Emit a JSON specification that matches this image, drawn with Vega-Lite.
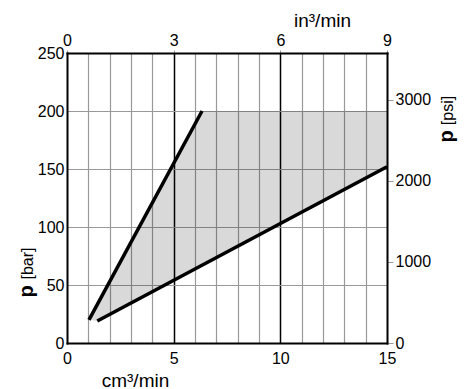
{
  "$schema": "https://vega.github.io/schema/vega-lite/v6.json",
  "autosize": {"type": "none"},
  "padding": {"left": 67, "top": 53, "right": 82, "bottom": 46},
  "width": 320,
  "height": 290,
  "background": "white",
  "config": {
    "view": {"stroke": null},
    "font": "Liberation Sans",
    "axis": {
      "labelFont": "Liberation Sans",
      "labelFontSize": 16,
      "labelColor": "black",
      "titleFont": "Liberation Sans",
      "titleColor": "black",
      "titleFontWeight": "normal",
      "labelFlush": false,
      "labelOverlap": false,
      "domainColor": "black",
      "domainWidth": 2,
      "domainCap": "square"
    }
  },
  "datasets": {
    "lines": [
      {"series": "steep", "cm": 1.03, "bar": 20},
      {"series": "steep", "cm": 6.33, "bar": 200},
      {"series": "shallow", "cm": 1.42, "bar": 19},
      {"series": "shallow", "cm": 15, "bar": 152}
    ],
    "band": [
      {"cm": 1.03, "bar": 20, "bar2": 20},
      {"cm": 1.42, "bar": 19, "bar2": 33.2},
      {"cm": 6.33, "bar": 67.1, "bar2": 200},
      {"cm": 15, "bar": 152, "bar2": 200}
    ]
  },
  "layer": [
    {
      "encoding": {
        "x": {
          "field": "cm", "type": "quantitative",
          "scale": {"domain": [0, 15], "nice": false, "zero": false},
          "axis": {
            "orient": "bottom",
            "title": "cm³/min",
            "values": [0,1,2,3,4,5,6,7,8,9,10,11,12,13,14,15],
            "labelExpr": "datum.value % 5 === 0 ? datum.label : ''",
            "ticks": false,
            "tickSize": 0,
            "labelPadding": 7,
            "grid": true,
            "gridColor": {"condition": {"test": "datum.value === 5 || datum.value === 10", "value": "black"}, "value": "#999999"},
            "gridWidth": {"condition": {"test": "datum.value === 5 || datum.value === 10", "value": 1.5}, "value": 1.2},
            "gridOpacity": {"condition": {"test": "datum.value === 0 || datum.value === 15", "value": 0}, "value": 1},
            "titleFontSize": 19,
            "titleX": 68,
            "titleY": 43,
            "titleAlign": "center",
            "titleBaseline": "alphabetic"
          }
        },
        "y": {
          "field": "bar", "type": "quantitative",
          "scale": {"domain": [0, 250], "nice": false},
          "axis": {
            "orient": "left",
            "title": "[bar]",
            "values": [0, 50, 100, 150, 200, 250],
            "ticks": false,
            "tickSize": 0,
            "labelPadding": 3,
            "grid": true,
            "gridColor": "#999999",
            "gridWidth": 1.2,
            "gridOpacity": {"condition": {"test": "datum.value === 0 || datum.value === 250", "value": 0}, "value": 1},
            "titleFontSize": 16,
            "titleAngle": 270,
            "titleX": -35,
            "titleY": 210,
            "titleAlign": "center",
            "titleBaseline": "alphabetic"
          }
        }
      },
      "layer": [
        {
          "data": {"name": "band"},
          "mark": {"type": "area", "color": "black", "opacity": 0.15},
          "encoding": {
            "y2": {"field": "bar2"}
          }
        },
        {
          "data": {"name": "lines"},
          "mark": {"type": "line", "color": "black", "strokeWidth": 3.5, "strokeCap": "butt"},
          "encoding": {
            "detail": {"field": "series"}
          }
        }
      ]
    },
    {
      "data": {"values": [{}]},
      "mark": {"type": "point", "opacity": 0},
      "encoding": {
        "x": {
          "datum": 0, "type": "quantitative",
          "scale": {"domain": [0, 9], "nice": false},
          "axis": {
            "orient": "top",
            "title": "in³/min",
            "values": [0, 3, 6, 9],
            "ticks": true,
            "tickSize": 3,
            "tickColor": "#999999",
            "labelPadding": 2,
            "grid": false,
            "titleFontSize": 19,
            "titleX": 255,
            "titleY": -27,
            "titleAlign": "center",
            "titleBaseline": "alphabetic"
          }
        },
        "y": {
          "datum": 0, "type": "quantitative",
          "scale": {"domain": [0, 3575], "nice": false},
          "axis": {
            "orient": "right",
            "title": "[psi]",
            "values": [0, 1000, 2000, 3000],
            "format": "d",
            "ticks": true,
            "tickSize": 6,
            "tickColor": "#999999",
            "labelPadding": 2,
            "grid": false,
            "titleFontSize": 16,
            "titleAngle": 270,
            "titleX": 65,
            "titleY": 57,
            "titleAlign": "center",
            "titleBaseline": "alphabetic"
          }
        }
      }
    },
    {
      "data": {"values": [{}]},
      "mark": {"type": "point", "opacity": 0},
      "encoding": {
        "x": {"datum": 0, "type": "quantitative", "axis": null},
        "y": {
          "datum": 0, "type": "quantitative",
          "scale": {"domain": [0, 1]},
          "axis": {
            "orient": "left",
            "title": "p",
            "labels": false, "ticks": false, "domain": false, "grid": false,
            "titleFontSize": 20,
            "titleFontWeight": "bold",
            "titleAngle": 270,
            "titleX": -35,
            "titleY": 238,
            "titleAlign": "center",
            "titleBaseline": "alphabetic"
          }
        }
      }
    },
    {
      "data": {"values": [{}]},
      "mark": {"type": "point", "opacity": 0},
      "encoding": {
        "x": {"datum": 0, "type": "quantitative", "axis": null},
        "y": {
          "datum": 0, "type": "quantitative",
          "scale": {"domain": [0, 1]},
          "axis": {
            "orient": "right",
            "title": "p",
            "labels": false, "ticks": false, "domain": false, "grid": false,
            "titleFontSize": 20,
            "titleFontWeight": "bold",
            "titleAngle": 270,
            "titleX": 65,
            "titleY": 83,
            "titleAlign": "center",
            "titleBaseline": "alphabetic"
          }
        }
      }
    }
  ],
  "resolve": {"scale": {"x": "independent", "y": "independent"}}
}
